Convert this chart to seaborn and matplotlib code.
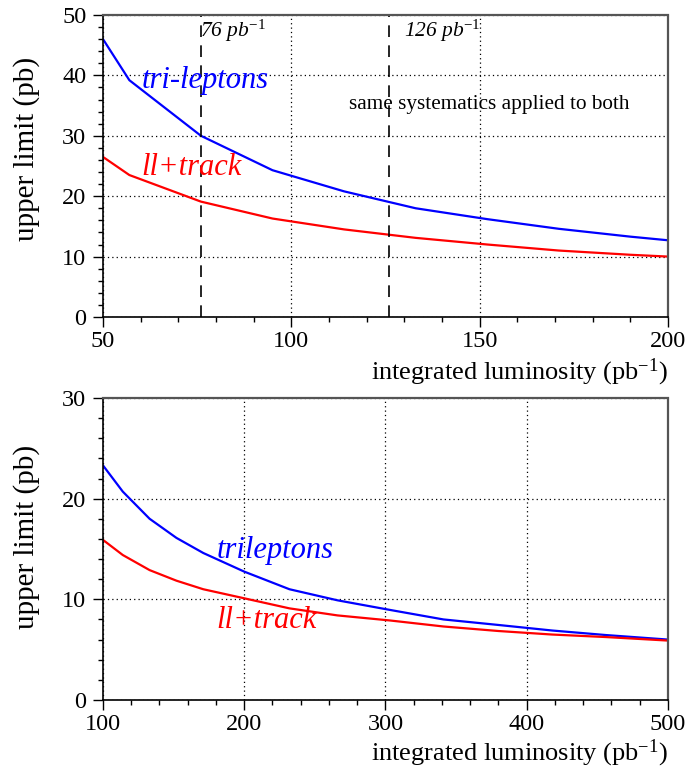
import numpy as np
import pandas as pd
import matplotlib
matplotlib.use("Agg")
import matplotlib.pyplot as plt
import seaborn as sns
from matplotlib.ticker import MultipleLocator

# ---- data ----
top_lumi = [50, 57, 76, 95, 114, 133, 152, 171, 190, 200]
top_trileptons = [46.0, 39.2, 30.0, 24.3, 20.8, 18.0, 16.2, 14.6, 13.3, 12.7]
top_lltrack = [26.5, 23.5, 19.1, 16.3, 14.5, 13.1, 12.0, 11.0, 10.3, 10.0]

bot_lumi = [100, 114, 133, 152, 171, 200, 232, 266, 303, 341, 380, 418, 456, 500]
bot_trileptons = [23.3, 20.7, 18.0, 16.1, 14.6, 12.75, 11.0, 9.9, 8.95, 8.0, 7.45, 6.9, 6.45, 6.0]
bot_lltrack = [15.9, 14.4, 12.9, 11.85, 11.0, 10.1, 9.1, 8.4, 7.9, 7.3, 6.85, 6.5, 6.25, 5.9]

vlines_lumi = [76, 126]
vlines_labels = ["76 pb$^{-1}$", "126 pb$^{-1}$"]

sns.set_theme(style="white")
plt.rcParams['font.family'] = ['Liberation Serif', 'DejaVu Serif']
plt.rcParams['mathtext.fontset'] = 'custom'
plt.rcParams['mathtext.rm'] = 'Liberation Serif'
plt.rcParams['mathtext.it'] = 'Liberation Serif:italic'

fig = plt.figure(figsize=(6.88, 7.72), dpi=100)
ax1 = fig.add_axes([0.1497, 0.5894, 0.8212, 0.3912])
ax2 = fig.add_axes([0.1497, 0.0933, 0.8212, 0.3912])

df_top = pd.DataFrame({
    "lumi": top_lumi * 2,
    "limit": top_trileptons + top_lltrack,
    "series": ["tri"] * len(top_lumi) + ["ll"] * len(top_lumi),
})
df_bot = pd.DataFrame({
    "lumi": bot_lumi * 2,
    "limit": bot_trileptons + bot_lltrack,
    "series": ["tri"] * len(bot_lumi) + ["ll"] * len(bot_lumi),
})
pal = {"tri": "#0000ff", "ll": "#ff0000"}

sns.lineplot(data=df_top, x="lumi", y="limit", hue="series", palette=pal,
             ax=ax1, legend=False, linewidth=1.6, sort=True)
sns.lineplot(data=df_bot, x="lumi", y="limit", hue="series", palette=pal,
             ax=ax2, legend=False, linewidth=1.6, sort=True)

def style(ax, xlim, ylim, xmaj, xmin, ymaj, ymin, ylab_y, xlab_y):
    ax.set_xlim(*xlim)
    ax.set_ylim(*ylim)
    ax.xaxis.set_major_locator(MultipleLocator(xmaj))
    ax.xaxis.set_minor_locator(MultipleLocator(xmin))
    ax.yaxis.set_major_locator(MultipleLocator(ymaj))
    ax.yaxis.set_minor_locator(MultipleLocator(ymin))
    ax.grid(True, which="major", linestyle=(0, (1, 2.5)), color="black", linewidth=0.9)
    ax.tick_params(which="major", direction="out", length=7, width=1.0,
                   labelsize=17.5, color="black", labelcolor="black",
                   bottom=True, left=True, top=False, right=False)
    ax.tick_params(axis="x", which="major", pad=3)
    ax.tick_params(axis="y", which="major", pad=5)
    ax.tick_params(which="minor", direction="out", length=3.6, width=1.0,
                   color="black", bottom=True, left=True, top=False, right=False)
    for s in ["left", "bottom"]:
        ax.spines[s].set_color("black")
        ax.spines[s].set_linewidth(1.2)
    for s in ["top", "right"]:
        ax.spines[s].set_color("#555555")
        ax.spines[s].set_linewidth(1.6)
        ax.spines[s].set_linestyle((0, (1, 1)))
    ax.set_ylabel("upper limit (pb)", fontsize=21, color="black")
    ax.yaxis.set_label_coords(-0.1345, ylab_y)
    ax.yaxis.label.set_va("center")
    ax.set_xlabel("integrated luminosity (pb$^{-1}$)", fontsize=19, color="black",
                  loc="right")
    ax.xaxis.set_label_coords(1.0, xlab_y)
    ax.xaxis.label.set_va("center")
    ax.xaxis.label.set_ha("right")

style(ax1, (50, 200), (0, 50), 50, 10, 10, 2, 0.556, -0.184)
style(ax2, (100, 500), (0, 30), 100, 20, 10, 2, 0.54, -0.176)

for xv, lab in zip(vlines_lumi, vlines_labels):
    ax1.axvline(xv, color="black", linestyle=(0, (7, 5)), linewidth=1.2)
    ax1.text(xv - 0.3 if xv < 100 else xv + 4, 47.3, lab, fontsize=15.5, style="italic",
             ha="left", va="center", color="black")

ax1.text(60.3, 39.2, "tri-leptons", fontsize=22, style="italic", color="#0000ff",
         ha="left", va="center")
ax1.text(60.3, 24.8, "ll+track", fontsize=22, style="italic", color="#ff0000",
         ha="left", va="center")
ax1.text(115.3, 35.1, "same systematics applied to both", fontsize=15.3, color="black",
         ha="left", va="center")

ax2.text(180.5, 14.8, "trileptons", fontsize=22, style="italic", color="#0000ff",
         ha="left", va="center")
ax2.text(180.5, 7.9, "ll+track", fontsize=22, style="italic", color="#ff0000",
         ha="left", va="center")

fig.savefig("out.png", dpi=100)
